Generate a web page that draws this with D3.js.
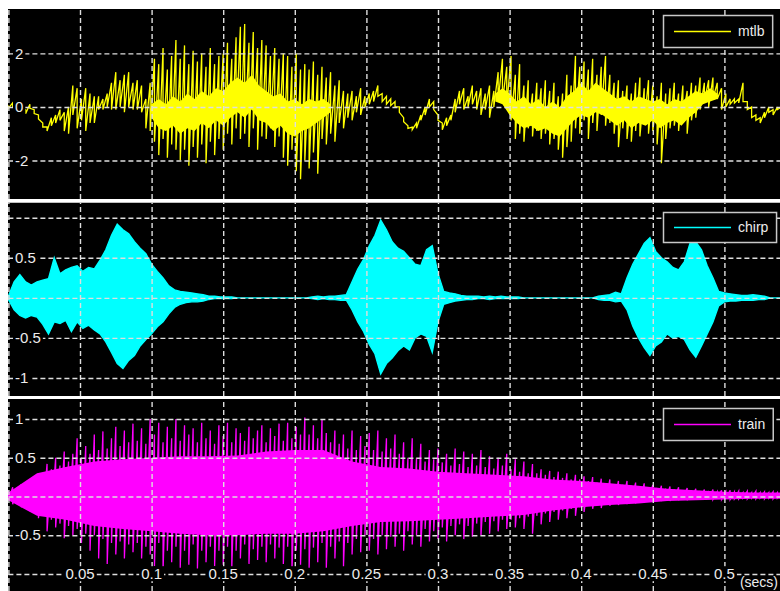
<!DOCTYPE html>
<html><head><meta charset="utf-8">
<script src="https://cdn.jsdelivr.net/npm/d3@7"></script>
<style>
html,body{margin:0;padding:0;background:#ffffff;overflow:hidden;}
svg{display:block;}
text{font-family:"Liberation Sans",Arial,sans-serif;}
</style></head><body>
<svg id="chart" width="780" height="591"></svg>
<script>
// ---------------- data ----------------
const timeTicks = [0, 0.05, 0.1, 0.15, 0.2, 0.25, 0.3, 0.35, 0.4, 0.45, 0.5];
const timeTickLabels = ["0.05", "0.1", "0.15", "0.2", "0.25", "0.3", "0.35", "0.4", "0.45", "0.5"];
const timeUnit = "(secs)";
const seriesNames = ["mtlb", "chirp", "train"];

const mtlbDt = 0.003;
const mtlbHi = [
 0.05,0.15,-0.1,0.1,-0.1, 0.1,-0.1,-0.3,-0.6,-0.75, -0.4,-0.3,-0.1,-0.2,0.0, 0.8,0.7,0.3,0.7,0.5,
 0.4,0.4,0.3,0.5,0.9, 1.3,1.0,1.2,1.3,0.9, 1.0,0.8,0.3,0.9,1.8, 1.6,2.2,1.4,1.9,2.5,
 1.8,2.3,1.6,2.1,1.7, 2.0,1.5,2.2,1.6,1.9, 2.0,2.4,1.8,2.6,3.0, 3.1,2.4,2.8,2.2,2.5,
 2.3,1.9,2.2,1.8,2.0, 1.9,1.5,2.0,1.4,1.6, 1.4,1.7,1.2,1.5,1.1, 1.3,0.8,1.0,0.6,0.5,
 0.6,0.4,0.7,0.4,0.5, 0.6,0.8,0.5,0.4,0.3, 0.2,0.0,-0.4,-0.7,-0.75, -0.6,-0.3,0.0,0.3,0.2,
 -0.3,-0.6,-0.4,-0.3,0.3, 0.6,0.7,0.4,0.8,0.6, 0.7,0.5,0.8,0.6,1.3, 1.8,1.5,1.9,1.2,1.6,
 0.8,1.0,0.5,0.9,0.7, 1.0,0.6,0.9,0.4,0.5, 1.2,0.8,1.9,1.5,1.7, 1.4,1.8,1.2,1.5,1.9,
 1.2,0.9,1.0,0.6,0.8, 0.5,0.9,1.1,0.7,1.0, 0.8,0.4,0.9,0.5,0.7, 0.9,0.5,0.8,0.6,0.9,
 0.8,1.1,0.9,1.0,1.1, 0.9,0.7,0.5,0.3,0.3, 0.3,0.9,0.2,0.0,-0.3, -0.4,-0.2,0.0,-0.1,0.0,
 0.0];
const mtlbLo = [
 -0.05,0.0,-0.25,-0.05,-0.25, -0.05,-0.25,-0.45,-0.75,-0.9, -0.7,-0.6,-0.5,-0.9,-1.0, -0.3,-0.8,-0.5,-0.9,-0.6,
 -0.6,-0.1,-0.1,0.0,-0.1, -0.1,0.0,-0.2,0.0,-0.1, -0.1,-0.2,-0.8,-0.9,-1.3, -1.8,-1.2,-1.9,-1.4,-1.6,
 -2.0,-1.6,-2.2,-1.5,-1.9, -1.4,-2.1,-1.3,-1.8,-1.2, -1.6,-1.0,-1.4,-0.8,-1.2, -1.0,-1.5,-0.8,-1.6,-1.1,
 -1.2,-0.8,-1.5,-1.1,-1.9, -2.2,-1.6,-2.4,-2.7,-2.0, -2.3,-1.7,-2.5,-1.2,-1.4, -1.0,-1.3,-0.6,-0.8,-0.4,
 -0.5,-0.2,-0.3,0.0,0.1, 0.2,0.4,0.2,0.1,0.05, 0.0,-0.2,-0.55,-0.8,-0.85, -0.8,-0.5,-0.3,0.0,-0.1,
 -0.5,-0.85,-0.7,-0.5,-0.2, 0.1,-0.1,0.0,0.1,-0.1, -0.3,-0.1,-0.4,0.0,0.2, 0.2,0.0,-0.5,-1.2,-1.0,
 -1.3,-0.8,-1.1,-0.9,-1.2, -1.0,-1.4,-1.2,-1.6,-1.9, -1.5,-1.3,-0.8,-1.0,-0.5, -1.2,-0.6,-0.9,-0.3,-0.7,
 -0.6,-1.0,-1.5,-0.8,-1.2, -1.3,-0.9,-1.1,-0.6,-1.0, -0.9,-1.4,-2.1,-1.2,-0.8, -0.7,-0.9,-0.4,-1.0,-0.5,
 -0.4,-0.1,0.2,0.0,0.3, 0.3,-0.1,0.0,0.1,0.15, 0.15,0.2,-0.1,-0.4,-0.5, -0.6,-0.4,-0.2,-0.3,-0.1,
 -0.1];
// solid, ragged core of the dense parts of mtlb (null = no solid band)
const mtlbCoreDt = 0.005;
const mtlbCoreHi = [
 null,null,null,null,null,null,null,null,null,null,null,null,null,null,null,null,null,null,null,null,
 0.1,0.3,0.1,0.4,0.2,0.5,0.3,0.6,0.4,0.7,0.6,0.9,1.1,0.9,1.2,0.8,0.6,0.4,0.5,0.2,0.3,0.1,0.3,0.2,0.3,0.1,
 null,null,null,null,null,null,null,null,null,null,null,null,null,null,null,null,null,null,null,null,null,null,
 0.5,0.7,0.5,0.2,0.4,0.1,0.3,0.0,0.2,0.0,0.4,0.6,0.9,0.6,0.9,0.7,0.5,0.3,0.4,0.2,0.4,0.3,0.2,0.3,0.1,0.3,0.2,0.4,0.6,0.5,0.7,0.5,
 null,null,null,null,null,null,null,null,null];
const mtlbCoreLo = [
 null,null,null,null,null,null,null,null,null,null,null,null,null,null,null,null,null,null,null,null,
 -0.4,-0.8,-0.9,-0.7,-1.0,-0.8,-0.9,-0.6,-0.8,-0.5,-0.7,-0.4,-0.2,-0.4,-0.1,-0.5,-0.6,-0.9,-0.7,-1.0,-1.1,-0.9,-0.8,-0.6,-0.4,-0.2,
 null,null,null,null,null,null,null,null,null,null,null,null,null,null,null,null,null,null,null,null,null,null,
 0.2,0.1,-0.3,-0.6,-0.8,-0.7,-0.9,-0.8,-1.0,-1.1,-0.8,-0.5,-0.3,-0.4,-0.2,-0.3,-0.5,-0.7,-0.5,-0.8,-0.6,-0.7,-0.5,-0.8,-0.6,-0.5,-0.7,-0.4,-0.2,0.1,0.2,0.3,
 null,null,null,null,null,null,null,null,null];

const chirpDt = 0.004;
const chirpHi = [
 0.02,0.2,0.29,0.2,0.16, 0.2,0.22,0.24,0.5,0.3, 0.35,0.38,0.4,0.33,0.38, 0.36,0.47,0.6,0.78,0.92,
 0.85,0.8,0.7,0.62,0.55, 0.42,0.33,0.25,0.15,0.1, 0.08,0.07,0.06,0.05,0.04, 0.02,0.02,0.01,0.01,0.01,
 0,0,0,0,0, 0,0,0,0,0, 0,0,0,0.01,0.02, 0.01,0.02,0.02,0.03,0.04,
 0.2,0.36,0.48,0.65,0.78, 0.97,0.85,0.7,0.62,0.58, 0.5,0.42,0.4,0.6,0.65, 0.3,0.08,0.06,0.05,0.03,
 0.02,0.02,0.02,0.01,0.02, 0.01,0.02,0.01,0.01,0.01, 0,0,0,0,0, 0,0,0,0,0,
 0,0,0,0.02,0.03, 0.04,0.07,0.05,0.25,0.42, 0.55,0.68,0.75,0.58,0.5, 0.45,0.38,0.35,0.45,0.68,
 0.7,0.6,0.4,0.25,0.08, 0.06,0.05,0.04,0.03,0.03, 0.04,0.03,0.02,0,0, 0];
const chirpLo = [
 -0.02,-0.15,-0.22,-0.25,-0.22, -0.24,-0.33,-0.45,-0.3,-0.32, -0.28,-0.42,-0.3,-0.38,-0.34, -0.4,-0.45,-0.55,-0.68,-0.82,
 -0.88,-0.78,-0.72,-0.6,-0.52, -0.45,-0.36,-0.3,-0.2,-0.12, -0.08,-0.06,-0.05,-0.05,-0.04, -0.02,-0.01,-0.01,-0.01,-0.01,
 0,0,0,0,0, 0,0,0,0,0, 0,0,0,-0.01,-0.02, -0.01,-0.02,-0.02,-0.03,-0.03,
 -0.15,-0.3,-0.42,-0.58,-0.7, -0.95,-0.82,-0.75,-0.66,-0.6, -0.65,-0.5,-0.45,-0.48,-0.68, -0.3,-0.08,-0.06,-0.04,-0.03,
 -0.02,-0.02,-0.01,-0.01,-0.02, -0.01,-0.01,-0.01,-0.01,-0.01, 0,0,0,0,0, 0,0,0,0,0,
 0,0,0,-0.02,-0.03, -0.03,-0.05,-0.04,-0.15,-0.35, -0.5,-0.62,-0.72,-0.6,-0.55, -0.45,-0.5,-0.48,-0.52,-0.65,
 -0.74,-0.6,-0.45,-0.3,-0.1, -0.05,-0.04,-0.04,-0.03,-0.03, -0.03,-0.02,-0.02,0,0, 0];

const trainDt = 0.003;
const trainHi = [
 0.08,0.12,0.1,0.16,0.14, 0.22,0.18,0.3,0.26,0.42, 0.35,0.5,0.4,0.58,0.45, 0.55,0.75,0.5,0.65,0.55,
 0.8,0.6,0.84,0.62,0.75, 0.9,0.65,0.85,0.7,0.94, 0.72,0.88,0.68,1.0,0.8, 0.95,0.7,0.9,0.75,1.0,
 0.72,0.92,0.8,0.88,0.7, 0.95,0.75,0.85,0.68,0.92, 0.78,0.95,0.7,0.88,0.82, 0.72,0.9,0.75,0.85,0.92,
 0.7,0.88,0.78,0.94,0.72, 0.95,0.75,0.9,0.8,1.02, 0.8,0.92,0.75,1.0,0.82, 0.7,0.85,0.68,0.8,0.62,
 0.85,0.6,0.78,0.65,0.82, 0.6,0.85,0.58,0.75,0.62, 0.8,0.55,0.7,0.5,0.75, 0.5,0.68,0.45,0.6,0.48,
 0.62,0.44,0.55,0.4,0.62, 0.42,0.58,0.38,0.55,0.4, 0.6,0.38,0.52,0.36,0.5, 0.4,0.55,0.35,0.48,0.32,
 0.45,0.3,0.42,0.3,0.35, 0.28,0.33,0.25,0.32,0.24, 0.3,0.22,0.28,0.22,0.26, 0.2,0.25,0.18,0.23,0.17,
 0.22,0.16,0.2,0.15,0.2, 0.14,0.18,0.13,0.17,0.12, 0.15,0.11,0.14,0.1,0.13, 0.09,0.12,0.08,0.11,0.08,
 0.1,0.07,0.09,0.07,0.09, 0.06,0.08,0.06,0.08,0.06, 0.07,0.05,0.07,0.05,0.07, 0.05,0.06,0.05,0.06,0.05,
 0.05];
const trainLo = [
 -0.05,-0.1,-0.08,-0.14,-0.12, -0.19,-0.15,-0.28,-0.22,-0.45, -0.3,-0.4,-0.35,-0.54,-0.38, -0.5,-0.42,-0.6,-0.48,-0.7,
 -0.5,-0.8,-0.55,-0.87,-0.6, -0.75,-0.58,-0.8,-0.62,-0.72, -0.6,-0.8,-0.65,-0.75,-0.9, -0.6,-0.96,-0.7,-0.85,-0.65,
 -0.92,-0.7,-0.88,-0.62,-0.93, -0.7,-0.85,-0.65,-0.9,-0.7, -0.88,-0.65,-0.92,-0.7,-0.8, -0.62,-0.87,-0.68,-0.82,-0.65,
 -0.85,-0.62,-0.8,-0.66,-0.87, -0.65,-0.99,-0.7,-0.88,-0.68, -0.92,-0.66,-0.85,-0.6,-0.92, -0.65,-0.8,-0.58,-0.9,-0.6,
 -0.75,-0.55,-0.72,-0.5,-0.7, -0.55,-0.75,-0.5,-0.68,-0.52, -0.65,-0.48,-0.7,-0.45,-0.62, -0.5,-0.65,-0.42,-0.58,-0.45,
 -0.55,-0.4,-0.58,-0.38,-0.5, -0.36,-0.55,-0.38,-0.52,-0.35, -0.5,-0.33,-0.48,-0.32,-0.45, -0.3,-0.42,-0.3,-0.4,-0.28,
 -0.42,-0.26,-0.48,-0.25,-0.36, -0.22,-0.33,-0.2,-0.3,-0.18, -0.28,-0.16,-0.25,-0.14,-0.2, -0.12,-0.16,-0.11,-0.15,-0.1,
 -0.12,-0.08,-0.11,-0.07,-0.1, -0.06,-0.09,-0.06,-0.08,-0.05, -0.07,-0.05,-0.06,-0.04,-0.06, -0.04,-0.05,-0.03,-0.05,-0.03,
 -0.04,-0.03,-0.04,-0.03,-0.04, -0.03,-0.04,-0.03,-0.04,-0.03, -0.03,-0.02,-0.03,-0.02,-0.03, -0.02,-0.03,-0.02,-0.03,-0.02,
 -0.02];
const trainCoreDt = 0.02;
const trainCoreHi = [0.05,0.3,0.38,0.45,0.48,0.5,0.52,0.52,0.53,0.58,0.6,0.6,0.45,0.38,0.36,0.32,0.3,0.28,0.26,0.22,0.2,0.17,0.14,0.1,0.08,0.06,0.05,0.05];
const trainCoreLo = [-0.05,-0.25,-0.3,-0.38,-0.42,-0.45,-0.48,-0.5,-0.5,-0.48,-0.48,-0.45,-0.38,-0.33,-0.32,-0.3,-0.28,-0.26,-0.24,-0.18,-0.14,-0.11,-0.09,-0.06,-0.05,-0.04,-0.03,-0.03];

const mtlbGrid = [-2, 0, 2];
const mtlbYLabels = [2, 0, -2];
const chirpGrid = [-1, -0.5, 0, 0.5, 1];
const chirpYLabels = [0.5, -0.5, -1];
const trainGrid = [-1, -0.5, 0, 0.5, 1];
const trainYLabels = [1, 0.5, -0.5];

// ---------------- drawing ----------------
const W = 780;
const svg = d3.select('#chart');
const defs = svg.append('defs');
const x = d3.scaleLinear().domain([0, 0.54]).range([8.4, 8.4 + 0.54 * 1432]);
const gridColor = '#dedede';
const textColor = '#ececec';

const panels = [
  {name: seriesNames[0], top: 9, bottom: 199, ydom: [-3.44, 3.66], grid: mtlbGrid, labels: mtlbYLabels, color: '#ffff00', legTop: 15, legH: 32},
  {name: seriesNames[1], top: 202.5, bottom: 396, ydom: [-1.225, 1.19], grid: chirpGrid, labels: chirpYLabels, color: '#00ffff', legTop: 212, legH: 30},
  {name: seriesNames[2], top: 399, bottom: 591, ydom: [-1.22, 1.258], grid: trainGrid, labels: trainYLabels, color: '#ff00ff', legTop: 408, legH: 32}
];

function zigzag(hi, lo, dt) {
  const pts = [];
  hi.forEach((h, i) => { pts.push([i * dt, h]); pts.push([i * dt, lo[i]]); });
  return pts;
}

function addLabel(g, px, py, str, anchor, size) {
  const t = g.append('text').attr('x', px).attr('y', py).attr('dy', '0.35em')
    .attr('text-anchor', anchor).attr('font-size', size).attr('fill', textColor).text(str);
  const bb = t.node().getBBox();
  g.insert('rect', () => t.node()).attr('x', bb.x - 2).attr('y', bb.y + 1).attr('width', bb.width + 4).attr('height', bb.height - 2).attr('fill', '#000');
}

panels.forEach((p, pi) => {
  const y = d3.scaleLinear().domain(p.ydom).range([p.bottom, p.top]);
  const clipId = 'clip' + pi;
  defs.append('clipPath').attr('id', clipId).append('rect')
    .attr('x', 8).attr('y', p.top).attr('width', W - 8).attr('height', p.bottom - p.top);
  const g = svg.append('g').attr('clip-path', `url(#${clipId})`);
  g.append('rect').attr('x', 8).attr('y', p.top).attr('width', W - 8).attr('height', p.bottom - p.top).attr('fill', '#000');

  const line = d3.line().x(d => x(d[0])).y(d => y(d[1]));
  if (pi === 0) {
    const core = d3.area().defined(d => d != null).x((d, i) => x(i * mtlbCoreDt))
      .y0((d, i) => y(mtlbCoreLo[i])).y1(d => y(d));
    g.append('path').attr('d', core(mtlbCoreHi)).attr('fill', p.color);
    g.append('path').attr('d', line(zigzag(mtlbHi, mtlbLo, mtlbDt)))
      .attr('fill', 'none').attr('stroke', p.color).attr('stroke-width', 1.3);
  } else if (pi === 1) {
    const area = d3.area().x((d, i) => x(i * chirpDt)).y0((d, i) => y(chirpLo[i])).y1(d => y(d));
    g.append('path').attr('d', area(chirpHi)).attr('fill', p.color)
      .attr('stroke', p.color).attr('stroke-width', 1.4);
  } else {
    const area = d3.area().x((d, i) => x(i * trainCoreDt)).y0((d, i) => y(trainCoreLo[i])).y1(d => y(d));
    g.append('path').attr('d', area(trainCoreHi)).attr('fill', p.color);
    g.append('path').attr('d', line(zigzag(trainHi, trainLo, trainDt)))
      .attr('fill', 'none').attr('stroke', p.color).attr('stroke-width', 1.3);
  }

  // grid through axes
  const gx = g.append('g').attr('transform', `translate(0,${p.bottom})`)
    .call(d3.axisBottom(x).tickValues(timeTicks).tickSize(-(p.bottom - p.top)).tickFormat(''));
  const gy = g.append('g').attr('transform', `translate(${x(0)},0)`)
    .call(d3.axisLeft(y).tickValues(p.grid).tickSize(-(W - x(0))).tickFormat(''));
  [gx, gy].forEach(a => {
    a.select('.domain').remove();
    a.selectAll('line').attr('stroke', gridColor).attr('stroke-width', 1.4).attr('stroke-dasharray', '5,3');
  });

  // y labels
  const lg = g.append('g');
  p.labels.forEach(v => addLabel(lg, 15, y(v), String(v), 'start', 15));
  if (pi === 2) {
    timeTicks.slice(1).forEach((t, i) => addLabel(lg, x(t), y(-1), timeTickLabels[i], 'middle', 15));
    lg.append('text').attr('x', 778).attr('y', 587).attr('text-anchor', 'end')
      .attr('font-size', 14).attr('fill', textColor).text(timeUnit);
  }

  // legend
  const leg = g.append('g');
  const lt = leg.append('text').attr('x', 738).attr('y', p.legTop + p.legH / 2).attr('dy', '0.35em')
    .attr('font-size', 14).attr('fill', textColor).text(p.name);
  const tb = lt.node().getBBox();
  leg.insert('rect', () => lt.node()).attr('x', 663.5).attr('y', p.legTop + 0.5)
    .attr('width', tb.x + tb.width + 8 - 663.5).attr('height', p.legH)
    .attr('fill', '#000').attr('stroke', '#c8c8c8').attr('stroke-width', 1.5);
  leg.append('line').attr('x1', 674).attr('x2', 731)
    .attr('y1', p.legTop + p.legH / 2 + 0.5).attr('y2', p.legTop + p.legH / 2 + 0.5)
    .attr('stroke', p.color).attr('stroke-width', 1.3);
});
</script>
</body></html>
